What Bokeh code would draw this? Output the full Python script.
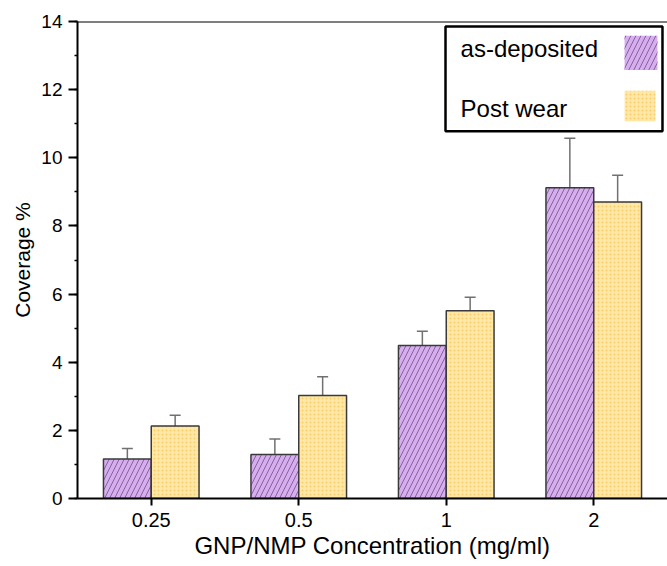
import numpy as np
from bokeh.plotting import figure
from bokeh.models import (Range1d, FixedTicker, SingleIntervalTicker, Whisker, TeeHead,
                          ColumnDataSource, BoxAnnotation, Label, Span)
from bokeh.embed import file_html
from bokeh.resources import INLINE

# ---- data ----
categories = ["0.25", "0.5", "1", "2"]
as_deposited = [1.16, 1.29, 4.49, 9.12]
as_deposited_err = [0.31, 0.46, 0.42, 1.45]
post_wear = [2.13, 3.02, 5.51, 8.70]
post_wear_err = [0.31, 0.55, 0.40, 0.79]
series_names = ["as-deposited", "Post wear"]

FONT = "Liberation Sans"
PURPLE = "#D6AEF0"
YELLOW = "#FFE8A6"
bar_w = 0.324

x = np.arange(len(categories))

p = figure(width=667, height=566, output_backend="svg", toolbar_location=None,
           x_range=Range1d(-0.5, 3.5), y_range=Range1d(0, 14),
           min_border_left=77, min_border_right=0, min_border_top=21, min_border_bottom=68)
p.outline_line_color = None
p.xgrid.visible = False
p.ygrid.visible = False
p.background_fill_color = "white"
p.border_fill_color = "white"

src = ColumnDataSource(dict(
    x1=x - bar_w / 2, x2=x + bar_w / 2,
    a=as_deposited, b=post_wear,
    a_up=np.array(as_deposited) + np.array(as_deposited_err),
    a_lo=np.array(as_deposited) - np.array(as_deposited_err),
    b_up=np.array(post_wear) + np.array(post_wear_err),
    b_lo=np.array(post_wear) - np.array(post_wear_err),
))

p.vbar(x="x1", top="a", width=bar_w, source=src, fill_color=PURPLE,
       line_color="#3a3a3a", line_width=1.5,
       hatch_pattern="/", hatch_color="#7b5a8e", hatch_scale=10, hatch_weight=1, hatch_alpha=0.9)
p.vbar(x="x2", top="b", width=bar_w, source=src, fill_color=YELLOW,
       line_color="#3a3a3a", line_width=1.5,
       hatch_pattern=".", hatch_color="#F6C65C", hatch_scale=4, hatch_weight=1, hatch_alpha=0.8)

for base, up, lo in [("x1", "a_up", "a_lo"), ("x2", "b_up", "b_lo")]:
    w = Whisker(base=base, upper=up, lower=lo, source=src,
                line_color="#707070", line_width=1.5,
                upper_head=TeeHead(size=11, line_color="#707070", line_width=1.5),
                lower_head=TeeHead(size=11, line_color="#707070", line_width=1.5))
    p.add_layout(w)

# top frame line
p.add_layout(Span(location=14, dimension="width", line_color="black", line_width=2))

# axes
xa = p.xaxis[0]
xa.ticker = FixedTicker(ticks=list(x))
xa.major_label_overrides = {int(i): c for i, c in zip(x, categories)}
xa.minor_tick_line_color = None
xa.axis_label = "GNP/NMP Concentration (mg/ml)"
ya = p.yaxis[0]
ya.ticker = SingleIntervalTicker(interval=2, num_minor_ticks=2)
ya.axis_label = "Coverage %"
for ax in (xa, ya):
    ax.axis_line_width = 2
    ax.axis_line_color = "black"
    ax.major_tick_line_width = 2
    ax.major_tick_line_color = "black"
    ax.major_tick_in = 0
    ax.major_label_text_font = FONT
    ax.major_label_text_color = "black"
    ax.axis_label_text_font = FONT
    ax.axis_label_text_font_style = "normal"
    ax.axis_label_text_color = "black"
xa.major_label_text_font_size = "20px"
ya.major_label_text_font_size = "19px"
xa.major_tick_out = 7
xa.major_label_standoff = 7
xa.axis_label_text_font_size = "24px"
xa.axis_label_standoff = 2
ya.major_tick_out = 9
ya.minor_tick_out = 3
ya.minor_tick_in = 0
ya.minor_tick_line_width = 1.5
ya.minor_tick_line_color = "black"
ya.major_label_standoff = 6
ya.axis_label_text_font_size = "21px"
ya.axis_label_standoff = 4

# legend (drawn manually: label left, swatch right)
p.add_layout(BoxAnnotation(left=1.995, right=3.466, bottom=10.78, top=13.85,
                           fill_color="white", fill_alpha=1, line_color="black",
                           line_alpha=1, line_width=2.5))
p.add_layout(BoxAnnotation(left=3.209, right=3.432, bottom=12.58, top=13.58,
                           fill_color=PURPLE, fill_alpha=1, line_color=None,
                           hatch_pattern="/", hatch_color="#7b5a8e", hatch_scale=10,
                           hatch_weight=1, hatch_alpha=0.9))
p.add_layout(BoxAnnotation(left=3.209, right=3.419, bottom=11.07, top=11.97,
                           fill_color=YELLOW, fill_alpha=1, line_color=None,
                           hatch_pattern=".", hatch_color="#F6C65C", hatch_scale=4,
                           hatch_weight=1, hatch_alpha=0.8))
for name, yy in zip(series_names, [13.2, 11.45]):
    p.add_layout(Label(x=2.097, y=yy, text=name, text_font=FONT, text_font_size="24px",
                       text_baseline="middle", text_color="black"))

open("out.html", "w").write(file_html(p, INLINE))
